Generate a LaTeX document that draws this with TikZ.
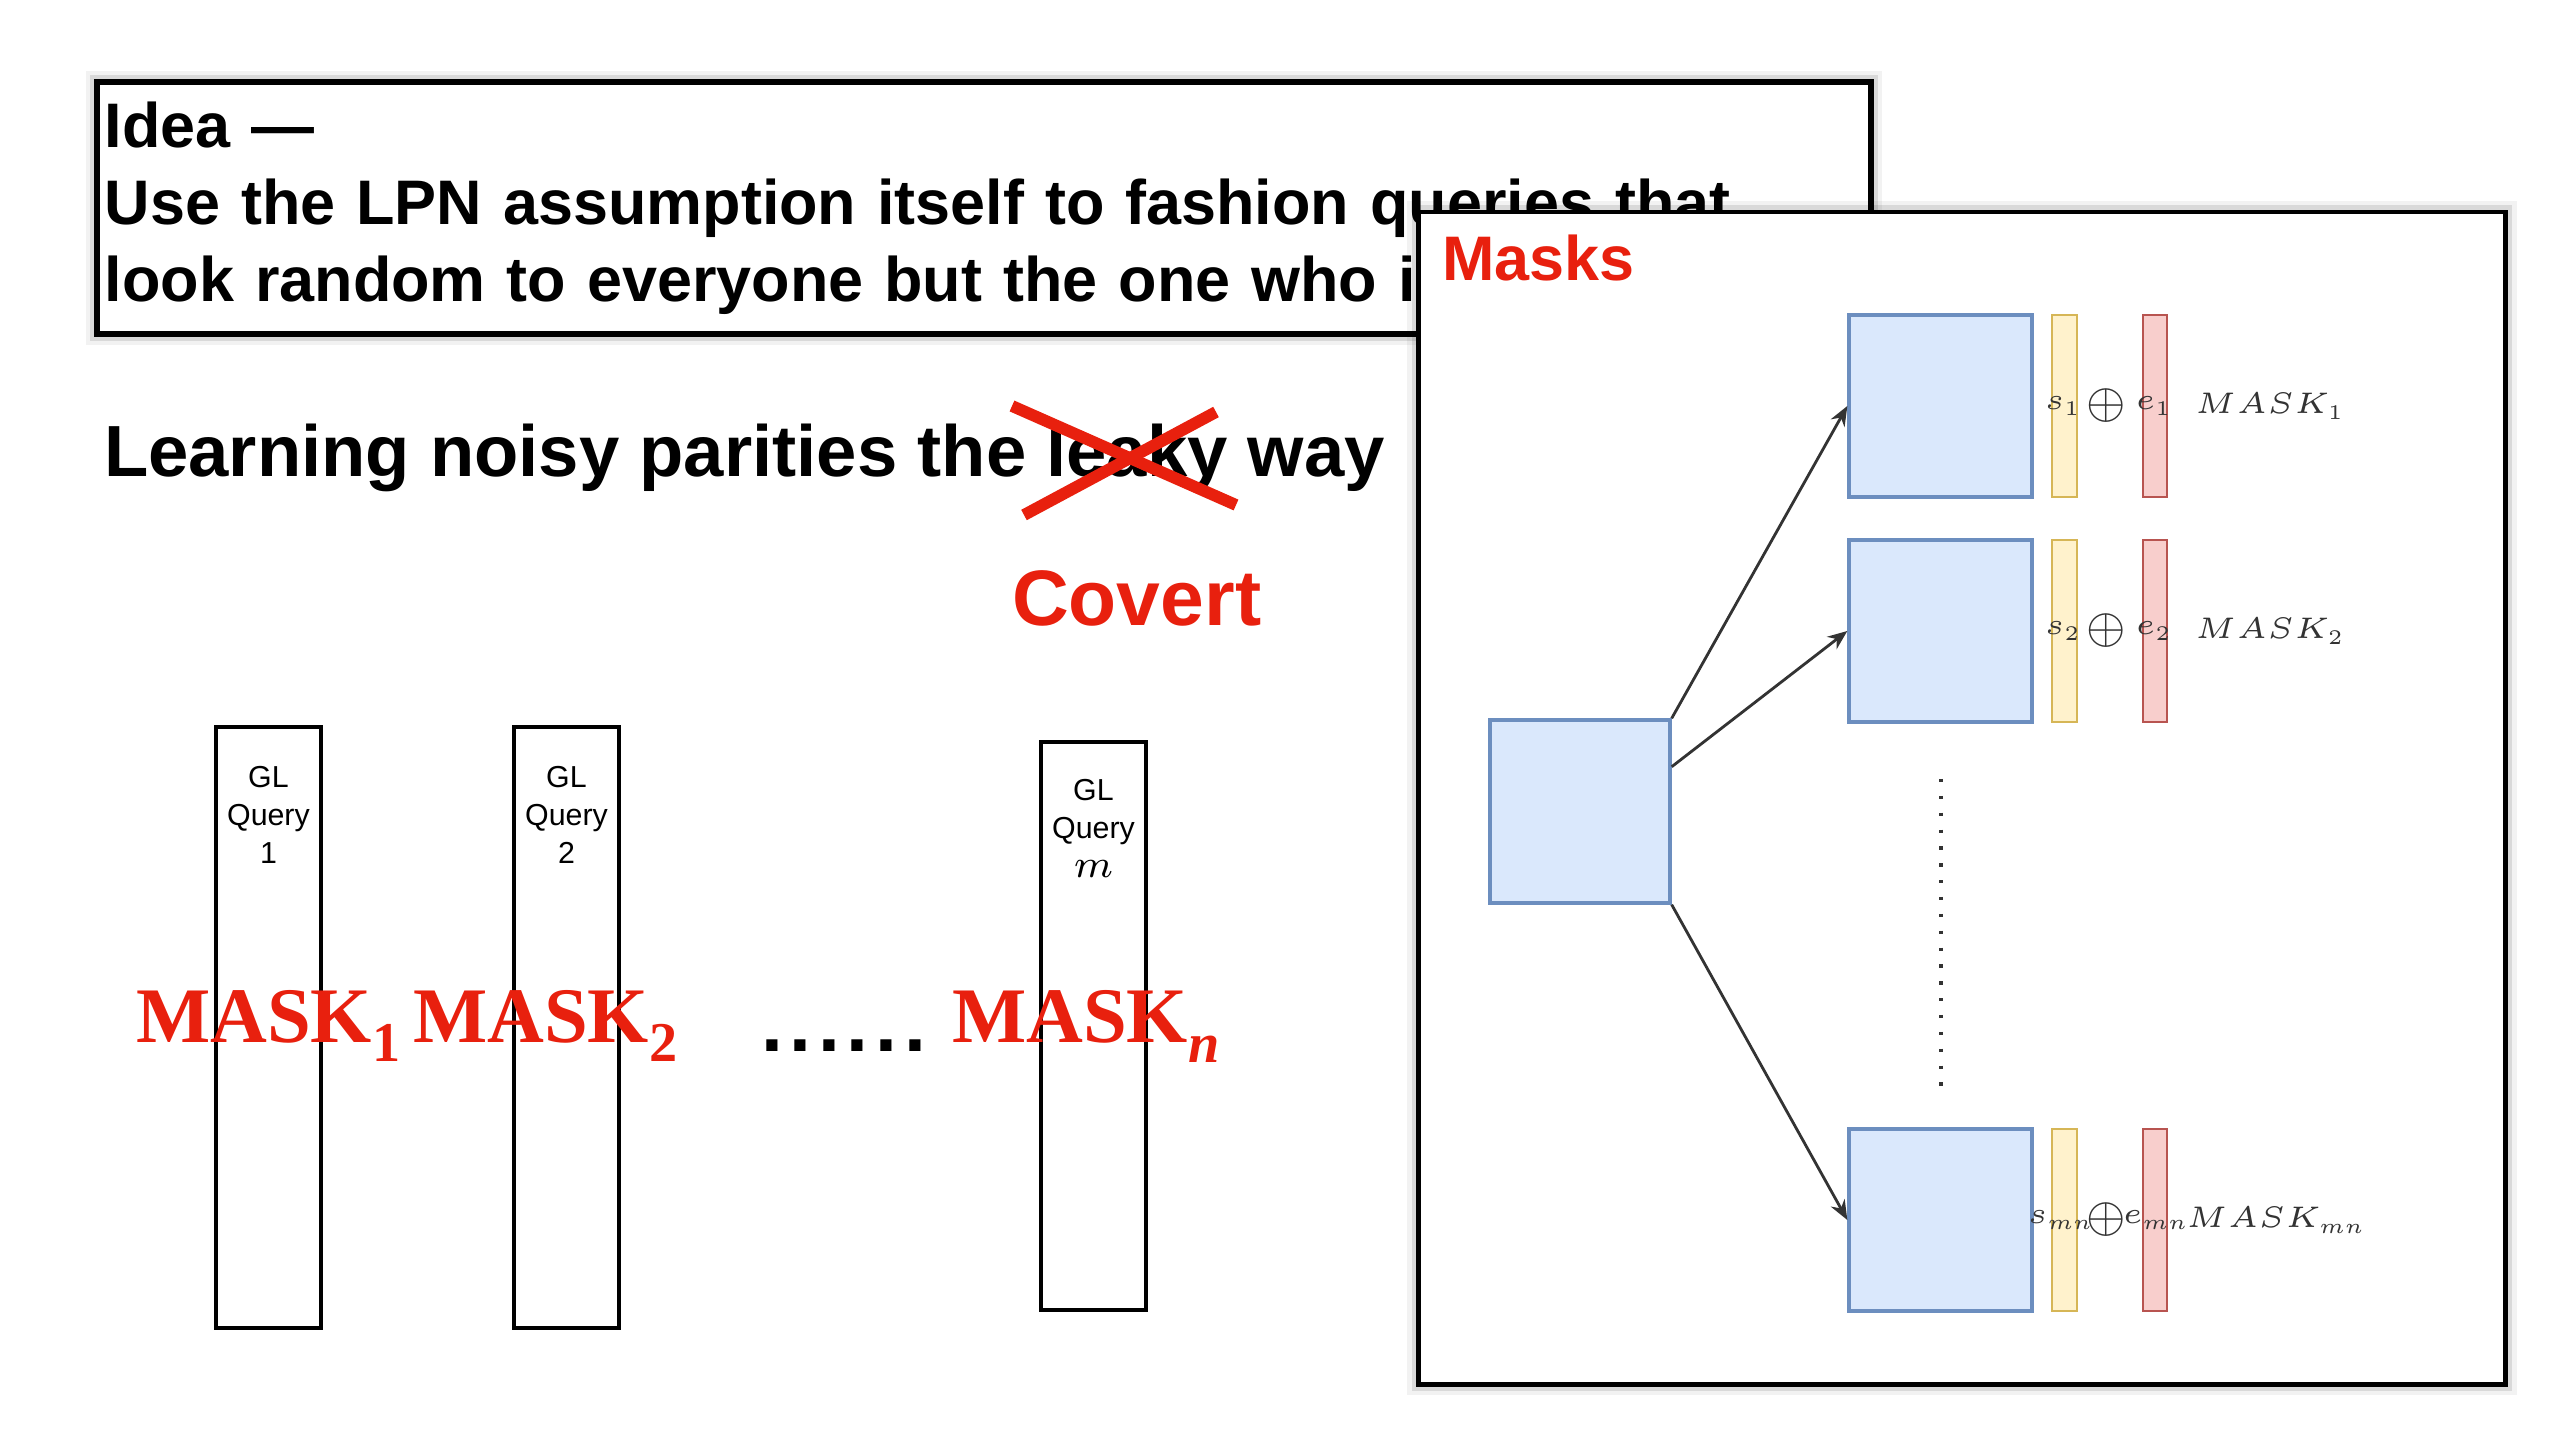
\documentclass[tikz,border=0pt]{standalone}
\usepackage{fix-cm}
\usepackage[no-math]{fontspec}
\setmainfont{Liberation Sans}
\newfontfamily\maskfont{Liberation Serif}
\usetikzlibrary{positioning,arrows.meta}
\definecolor{slidered}{RGB}{232,32,14}
\definecolor{blueface}{HTML}{DAE8FC}
\definecolor{blueedge}{HTML}{6C8EBF}
\definecolor{yellowface}{HTML}{FFF2CC}
\definecolor{yellowedge}{HTML}{D6B656}
\definecolor{redface}{HTML}{F8CECC}
\definecolor{rededge}{HTML}{B85450}
\def\pxl{0.00625cm}
\newcommand\maskword[1]{MASK\raisebox{-3.4pt}{\fontsize{10}{10}\selectfont #1}}
\tikzset{
  panel/.style={draw=black, fill=white, inner sep=0pt,
    preaction={draw=black, line width=4pt, opacity=0.05},
    preaction={draw=black, line width=2.4pt, opacity=0.1}},
  glbox/.style={draw=black, line width=0.7pt, inner sep=0pt, anchor=north west,
    minimum width={105*\pxl}},
  gltext/.style={anchor=north, inner sep=0pt, align=center,
    font=\fontsize{5.4}{6.8}\selectfont},
  bigmask/.style={anchor=base west, inner sep=0pt, text=slidered,
    font=\maskfont\bfseries\fontsize{14}{14}\selectfont},
  bluebox/.style={draw=blueedge, fill=blueface, line width=0.6pt, inner sep=0pt,
    minimum width={183*\pxl}, minimum height={182*\pxl}},
  sbar/.style={draw=yellowedge, fill=yellowface, line width=0.5pt, inner sep=0pt,
    minimum width={25*\pxl}, minimum height={182*\pxl}},
  ebar/.style={draw=rededge, fill=redface, line width=0.5pt, inner sep=0pt,
    minimum width={24*\pxl}, minimum height={182*\pxl}},
  lbl/.style={inner sep=0pt, text=black!80, font=\fontsize{5.3}{6}\selectfont},
  link/.style={draw=black!80, line width=0.5pt, -{Stealth[length=3.5pt,width=2.8pt]}},
  cross/.style={draw=slidered, line width=2.1pt},
}
\begin{document}
\begin{tikzpicture}[x=\pxl, y=-\pxl]
\useasboundingbox (0,0) rectangle (2560,1440);

% idea box
\node[panel, line width=1pt, anchor=north west, minimum width={1774*\pxl},
  minimum height={252*\pxl}, inner xsep={8*\pxl}, text width={1758*\pxl}, align=left,
  font=\fontsize{11.2}{13.7}\selectfont\bfseries] (idea) at (94,79)
  {Idea —\\Use the LPN assumption itself to fashion queries that\\look random to everyone but the one who i};

% heading
\node[anchor=base west, inner sep=0pt, font=\fontsize{12.9}{13}\selectfont\bfseries]
  (heading) at (103,477) {Learning noisy parities the leaky way};
\draw[cross] (1012,406) -- (1236,505);
\draw[cross] (1024,515) -- (1216,412);
\node[anchor=base west, inner sep=0pt, text=slidered, font=\fontsize{14}{14}\selectfont\bfseries]
  (covert) at (1011,626) {Covert};

% GL queries
\node[glbox, minimum height={601*\pxl}] (g1) at (214,725) {};
\node[glbox, minimum height={601*\pxl}] (g2) at (512,725) {};
\node[glbox, minimum height={568*\pxl}] (gm) at (1039,740) {};
\node[gltext] (g1text) at ([yshift=-0.25cm]g1.north) {GL\\Query\\1};
\node[gltext] (g2text) at ([yshift=-0.25cm]g2.north) {GL\\Query\\2};
\node[gltext] (gmtext) at ([yshift=-0.24cm]gm.north) {GL\\Query\\\fontsize{7}{7}\selectfont$m$};

\node[bigmask] (mask1) at (135,1042) {\maskword{1}};
\node[bigmask] (mask2) at (412,1042) {\maskword{2}};
\node[anchor=base west, inner sep=0pt, font=\fontsize{14}{14}\selectfont\bfseries]
  (dots) at (760,1052) {.\kern1.2pt.\kern1.2pt.\kern1.2pt.\kern1.2pt.\kern1.2pt.};
\node[bigmask] (maskn) at (951,1043) {\maskword{\itshape n}};

% masks panel
\node[panel, line width=0.8pt, anchor=north west, minimum width={1087*\pxl},
  minimum height={1172*\pxl}] (maskpanel) at (1416,210) {};
\node[anchor=base west, inner sep=0pt, text=slidered, font=\fontsize{11.2}{11.2}\selectfont\bfseries]
  (maskstitle) at (1441,281) {Masks};

\node[bluebox, minimum width={180*\pxl}, minimum height={183*\pxl}] (src) at (1580,811.5) {};
\foreach \row/\yc/\sx/\ex/\mx in {1/406/2063/2154/2270, 2/631/2063/2154/2270, mn/1220/2061/2156/2276} {
  \node[bluebox] (q\row) at (1940.5,\yc) {};
  \node[sbar] (s\row) at (2064.5,\yc) {};
  \node[ebar] (e\row) at (2155,\yc) {};
  \node[lbl] (sl\row) at (\sx,\yc) {$s_{\row}$};
  \node[lbl, font=\fontsize{8.5}{8.5}\selectfont] (op\row) at (2106,\yc) {$\oplus$};
  \node[lbl] (el\row) at (\ex,\yc) {$e_{\row}$};
  \node[lbl] (ml\row) at (\mx,\yc) {$MASK_{\row}$};
}
\draw[black!80, line width=0.6pt, dash pattern=on 0.6pt off 2.4pt] (1941,779) -- (1941,1087);

\draw[link] (src.north east) -- (q1.west);
\draw[link] ([yshift=0.28cm]src.east) -- (q2.west);
\draw[link] (src.south east) -- (qmn.west);
\end{tikzpicture}
\end{document}
